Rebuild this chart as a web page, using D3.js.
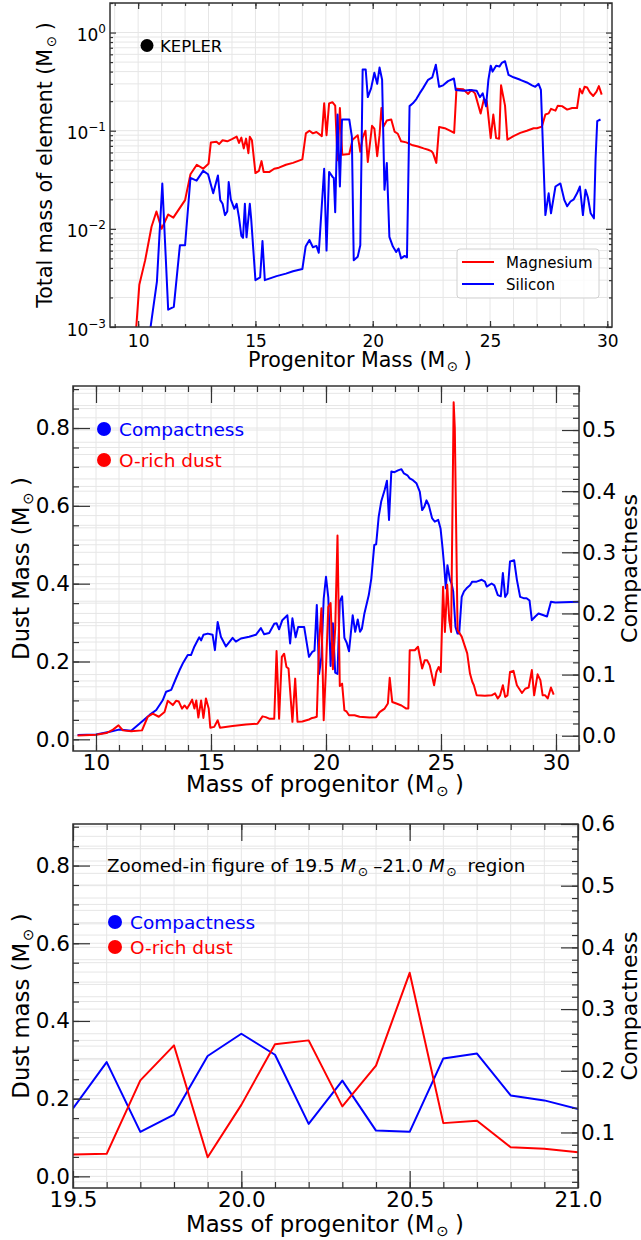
<!DOCTYPE html>
<html>
<head>
<meta charset="utf-8">
<script src="https://cdn.jsdelivr.net/npm/d3@7"></script>
<style>
body { margin: 0; background: #fff; }
text { font-family: "DejaVu Sans", sans-serif; }
</style>
</head>
<body>
<script>
// ---- top panel: total Mg / Si mass (KEPLER) ----
var mgMass = [9.8, 10.05, 10.3, 10.57, 10.78, 11.0, 11.28, 11.5, 12.0, 12.23, 12.5, 12.77, 13.0, 13.1, 13.34, 13.45, 13.6, 13.8, 14.0, 14.2, 14.3, 14.4, 14.5, 14.6, 14.7, 14.76, 14.85, 15.0, 15.15, 15.26, 15.35, 15.6, 15.8, 16.0, 16.3, 16.6, 17.0, 17.15, 17.3, 17.45, 17.6, 17.83, 17.93, 18.03, 18.14, 18.28, 18.4, 18.5, 18.6, 18.7, 19.0, 19.14, 19.36, 19.47, 19.57, 19.69, 19.79, 19.97, 20.07, 20.19, 20.29, 20.37, 20.46, 20.6, 20.79, 20.93, 21.07, 21.21, 21.43, 21.71, 21.93, 22.17, 22.36, 22.5, 22.57, 22.71, 22.83, 23.07, 23.29, 23.47, 23.57, 23.86, 24.07, 24.21, 24.36, 24.6, 24.74, 24.86, 25.03, 25.14, 25.26, 25.39, 25.47, 25.64, 25.74, 26.0, 26.29, 26.57, 26.86, 27.0, 27.21, 27.36, 27.5, 27.6, 27.79, 27.89, 28.07, 28.29, 28.5, 28.71, 28.83, 28.93, 29.03, 29.14, 29.26, 29.4, 29.54, 29.64, 29.76];
var mgTotal = [0.0004, 0.0027, 0.0048, 0.0105, 0.015, 0.0100, 0.014, 0.013, 0.0196, 0.036, 0.045, 0.041, 0.046, 0.076, 0.077, 0.073, 0.080, 0.078, 0.082, 0.087, 0.075, 0.085, 0.066, 0.083, 0.059, 0.087, 0.080, 0.037, 0.039, 0.049, 0.038, 0.038, 0.041, 0.042, 0.045, 0.047, 0.051, 0.094, 0.10, 0.094, 0.097, 0.088, 0.19, 0.09, 0.19, 0.195, 0.18, 0.05, 0.17, 0.057, 0.058, 0.081, 0.09, 0.061, 0.085, 0.10, 0.048, 0.112, 0.105, 0.055, 0.09, 0.17, 0.11, 0.127, 0.13, 0.098, 0.093, 0.078, 0.076, 0.071, 0.069, 0.066, 0.064, 0.062, 0.059, 0.047, 0.109, 0.106, 0.10, 0.095, 0.267, 0.265, 0.237, 0.26, 0.24, 0.15, 0.21, 0.20, 0.084, 0.146, 0.084, 0.083, 0.29, 0.18, 0.081, 0.088, 0.095, 0.10, 0.106, 0.106, 0.11, 0.146, 0.15, 0.167, 0.16, 0.18, 0.178, 0.164, 0.17, 0.17, 0.267, 0.24, 0.28, 0.275, 0.245, 0.226, 0.25, 0.285, 0.233];

var siMass = [10.4, 10.8, 11.03, 11.28, 11.52, 11.78, 12.0, 12.23, 12.49, 12.77, 12.98, 13.2, 13.4, 13.5, 13.6, 13.7, 13.8, 13.86, 13.95, 14.1, 14.2, 14.3, 14.4, 14.47, 14.55, 14.62, 14.76, 14.82, 15.0, 15.2, 15.3, 15.4, 15.9, 16.3, 16.6, 17.0, 17.14, 17.3, 17.45, 17.6, 17.7, 17.93, 18.03, 18.14, 18.28, 18.34, 18.4, 18.5, 18.6, 18.69, 19.0, 19.11, 19.19, 19.36, 19.47, 19.57, 19.7, 19.79, 19.93, 20.07, 20.19, 20.29, 20.4, 20.5, 20.6, 20.71, 20.86, 21.0, 21.1, 21.21, 21.36, 21.46, 21.57, 21.71, 21.86, 22.0, 22.14, 22.36, 22.54, 22.69, 22.83, 23.0, 23.21, 23.46, 23.54, 23.86, 24.14, 24.43, 24.57, 24.69, 24.83, 24.93, 25.03, 25.11, 25.26, 25.4, 25.5, 25.64, 25.79, 26.0, 26.29, 26.57, 26.79, 26.93, 27.07, 27.17, 27.36, 27.5, 27.6, 27.79, 28.0, 28.17, 28.29, 28.43, 28.57, 28.71, 28.83, 28.96, 29.07, 29.17, 29.29, 29.43, 29.5, 29.57, 29.71];
var siTotal = [0.0006, 0.0029, 0.029, 0.0015, 0.0016, 0.0068, 0.0068, 0.033, 0.031, 0.039, 0.036, 0.023, 0.035, 0.0196, 0.018, 0.0138, 0.015, 0.030, 0.020, 0.016, 0.018, 0.013, 0.0085, 0.0081, 0.018, 0.0082, 0.018, 0.0125, 0.003, 0.0032, 0.0075, 0.003, 0.0033, 0.0035, 0.0037, 0.0039, 0.0066, 0.0077, 0.0065, 0.0067, 0.0057, 0.041, 0.0060, 0.038, 0.034, 0.033, 0.0148, 0.146, 0.027, 0.13, 0.13, 0.087, 0.0048, 0.0052, 0.0068, 0.42, 0.42, 0.22, 0.27, 0.39, 0.30, 0.44, 0.33, 0.025, 0.047, 0.0083, 0.0066, 0.0058, 0.0063, 0.005, 0.0053, 0.0051, 0.178, 0.19, 0.21, 0.24, 0.27, 0.33, 0.35, 0.47, 0.28, 0.29, 0.32, 0.34, 0.26, 0.255, 0.26, 0.255, 0.22, 0.24, 0.177, 0.33, 0.46, 0.40, 0.46, 0.45, 0.49, 0.51, 0.37, 0.35, 0.33, 0.31, 0.29, 0.28, 0.30, 0.26, 0.0138, 0.023, 0.0144, 0.027, 0.029, 0.0196, 0.017, 0.019, 0.020, 0.023, 0.027, 0.0138, 0.025, 0.021, 0.0144, 0.0128, 0.052, 0.125, 0.13];

// ---- zoomed region 19.5-21.0 (0.1 steps) ----
var zoomMass = [19.5, 19.6, 19.7, 19.8, 19.9, 20.0, 20.1, 20.2, 20.3, 20.4, 20.5, 20.6, 20.7, 20.8, 20.9, 21.0];
var zoomDust = [0.056, 0.058, 0.247, 0.337, 0.049, 0.184, 0.340, 0.350, 0.180, 0.285, 0.524, 0.137, 0.143, 0.075, 0.071, 0.062];
var zoomComp = [0.139, 0.214, 0.101, 0.129, 0.224, 0.260, 0.226, 0.114, 0.184, 0.103, 0.101, 0.220, 0.228, 0.160, 0.152, 0.138];

// ---- middle panel, outside the zoomed region ----
var compMassLo = [9.2, 10.0, 10.6, 11.0, 11.53, 11.9, 12.33, 12.62, 12.9, 13.05, 13.27, 13.48, 13.63, 13.77, 13.99, 14.13, 14.28, 14.42, 14.49, 14.57, 14.67, 14.86, 15.07, 15.17, 15.29, 15.43, 15.65, 15.94, 16.08, 16.3, 16.66, 16.95, 17.17, 17.31, 17.53, 17.75, 17.85, 17.96, 18.1, 18.32, 18.44, 18.54, 18.68, 18.79, 19.05, 19.26, 19.4];
var compLo = [0.001, 0.002, 0.0065, 0.010, 0.008, 0.020, 0.034, 0.042, 0.058, 0.072, 0.075, 0.094, 0.107, 0.118, 0.132, 0.132, 0.146, 0.156, 0.161, 0.156, 0.165, 0.167, 0.165, 0.140, 0.186, 0.162, 0.146, 0.160, 0.154, 0.159, 0.162, 0.165, 0.176, 0.166, 0.168, 0.183, 0.184, 0.174, 0.189, 0.197, 0.151, 0.192, 0.161, 0.178, 0.178, 0.129, 0.137];
var compMassHi = [21.16, 21.27, 21.38, 21.48, 21.56, 21.67, 21.86, 21.97, 22.1, 22.18, 22.29, 22.4, 22.55, 22.65, 22.74, 22.84, 22.98, 23.13, 23.28, 23.39, 23.54, 23.64, 23.78, 23.93, 24.08, 24.18, 24.27, 24.37, 24.47, 24.61, 24.73, 24.88, 24.98, 25.07, 25.14, 25.21, 25.28, 25.39, 25.46, 25.53, 25.63, 25.72, 25.79, 25.9, 26.0, 26.11, 26.26, 26.36, 26.55, 26.77, 26.91, 26.99, 27.2, 27.32, 27.47, 27.6, 27.69, 27.79, 27.89, 28.0, 28.18, 28.3, 28.44, 28.59, 28.72, 28.85, 28.95, 29.1, 29.24, 29.46, 29.61, 29.78, 29.97, 31.0];
var compHi = [0.197, 0.170, 0.190, 0.170, 0.175, 0.200, 0.230, 0.257, 0.312, 0.313, 0.358, 0.383, 0.402, 0.417, 0.353, 0.432, 0.431, 0.434, 0.436, 0.429, 0.426, 0.421, 0.418, 0.413, 0.399, 0.369, 0.374, 0.385, 0.377, 0.356, 0.350, 0.353, 0.339, 0.306, 0.276, 0.241, 0.279, 0.255, 0.249, 0.236, 0.178, 0.167, 0.167, 0.227, 0.236, 0.241, 0.246, 0.252, 0.252, 0.255, 0.252, 0.244, 0.249, 0.246, 0.230, 0.228, 0.266, 0.227, 0.233, 0.285, 0.287, 0.255, 0.227, 0.225, 0.225, 0.221, 0.189, 0.195, 0.200, 0.197, 0.195, 0.219, 0.218, 0.219];

var dustMassLo = [9.2, 10.0, 10.45, 10.74, 10.98, 11.17, 11.53, 12.0, 12.25, 12.47, 12.73, 12.98, 13.12, 13.34, 13.48, 13.6, 13.74, 13.85, 13.96, 14.09, 14.18, 14.28, 14.36, 14.45, 14.57, 14.67, 14.78, 14.9, 14.97, 15.14, 15.29, 15.39, 15.94, 16.52, 17.02, 17.24, 17.38, 17.53, 17.75, 17.85, 17.96, 18.08, 18.18, 18.28, 18.37, 18.54, 18.66, 18.76, 18.97, 19.26, 19.4];
var dustLo = [0.010, 0.012, 0.016, 0.025, 0.036, 0.023, 0.021, 0.023, 0.058, 0.066, 0.058, 0.070, 0.099, 0.088, 0.099, 0.097, 0.079, 0.087, 0.079, 0.092, 0.102, 0.079, 0.100, 0.056, 0.100, 0.055, 0.105, 0.079, 0.030, 0.032, 0.049, 0.030, 0.034, 0.038, 0.040, 0.059, 0.057, 0.053, 0.053, 0.227, 0.053, 0.212, 0.220, 0.186, 0.182, 0.045, 0.156, 0.045, 0.046, 0.051, 0.055];
var dustMassHi = [21.24, 21.46, 21.89, 22.18, 22.33, 22.55, 22.69, 22.77, 22.88, 23.06, 23.28, 23.49, 23.58, 23.64, 23.86, 24.0, 24.18, 24.29, 24.4, 24.51, 24.7, 24.8, 24.9, 24.99, 25.09, 25.17, 25.27, 25.36, 25.44, 25.55, 25.6, 25.72, 25.9, 26.0, 26.14, 26.26, 26.36, 26.43, 26.55, 26.91, 27.2, 27.35, 27.47, 27.57, 27.69, 27.79, 27.89, 28.0, 28.15, 28.3, 28.52, 28.66, 28.81, 28.95, 29.05, 29.2, 29.32, 29.42, 29.53, 29.64, 29.78, 29.9];
var dustHi = [0.062, 0.058, 0.056, 0.057, 0.070, 0.079, 0.092, 0.158, 0.096, 0.092, 0.087, 0.079, 0.079, 0.229, 0.229, 0.238, 0.182, 0.203, 0.203, 0.190, 0.139, 0.173, 0.186, 0.173, 0.392, 0.276, 0.397, 0.306, 0.276, 0.866, 0.800, 0.281, 0.264, 0.246, 0.221, 0.169, 0.148, 0.139, 0.113, 0.112, 0.113, 0.118, 0.105, 0.113, 0.139, 0.109, 0.113, 0.173, 0.176, 0.139, 0.119, 0.130, 0.133, 0.178, 0.113, 0.167, 0.152, 0.113, 0.113, 0.105, 0.133, 0.115];

// tick labels
var topXTicks = [10, 15, 20, 25, 30];
var topYExp = [0, -1, -2, -3];
var midXTicks = [10, 15, 20, 25, 30];
var dustTicks = [0.0, 0.2, 0.4, 0.6, 0.8];
var midCompTicks = [0.0, 0.1, 0.2, 0.3, 0.4, 0.5];
var zoomXTicks = [19.5, 20.0, 20.5, 21.0];
var zoomCompTicks = [0.1, 0.2, 0.3, 0.4, 0.5, 0.6];

var RED = "#ff0000", BLUE = "#0000ff";
var gridColor = "#e6e6e6", spineColor = "#333";

var svg = d3.select("body").append("svg").attr("width", 641).attr("height", 1240);

function pairs(xs, ys) { return xs.map(function (x, i) { return [x, ys[i]]; }); }

// text with a subscript sun after an M, like mathtext M_\odot
function msun(t, fs, pre, post, italic) {
    t.append("tspan").text(pre);
    t.append("tspan").attr("font-style", italic ? "italic" : null).text("M");
    t.append("tspan").attr("font-size", fs * 0.65).attr("dy", fs * 0.18).attr("dx", fs * 0.08).text("\u2299");
    t.append("tspan").attr("dy", -fs * 0.18).attr("dx", fs * 0.28).text(post);
}

function panelFrame(id, left, right, top, bottom) {
    svg.append("clipPath").attr("id", id).append("rect")
        .attr("x", left).attr("y", top).attr("width", right - left).attr("height", bottom - top);
}

function gridLines(g, vals, scale, horizontal, left, right, top, bottom) {
    g.selectAll(null).data(vals).enter().append("line")
        .attr("x1", d => horizontal ? left : scale(d))
        .attr("x2", d => horizontal ? right : scale(d))
        .attr("y1", d => horizontal ? scale(d) : top)
        .attr("y2", d => horizontal ? scale(d) : bottom)
        .attr("stroke", gridColor).attr("stroke-width", 1);
}

function styleAxis(g, fs) {
    g.select(".domain").remove();
    g.selectAll(".tick line").attr("stroke", spineColor).attr("stroke-width", 1.2);
    g.selectAll(".tick text").attr("font-size", fs).attr("fill", "#000").attr("font-family", "DejaVu Sans");
}

function range(a, b, step) {
    var out = [];
    for (var v = a; v <= b + 1e-9; v += step) out.push(+v.toFixed(4));
    return out;
}

function drawLine(g, data, x, y, color, clip) {
    g.append("path").datum(data)
        .attr("clip-path", "url(#" + clip + ")")
        .attr("fill", "none").attr("stroke", color).attr("stroke-width", 2)
        .attr("stroke-linejoin", "round")
        .attr("d", d3.line().x(d => x(d[0])).y(d => y(d[1])));
}

// ================= TOP PANEL =================
(function () {
    var L = 110, R = 612, T = 3, B = 327;
    var x = d3.scaleLinear().domain([8.8, 30.2]).range([L, R]);
    var y = d3.scaleLog().domain([1e-3, 2]).range([B, T]);
    panelFrame("clipTop", L, R, T, B);
    var g = svg.append("g");

    var minorX = range(9, 30, 1);
    var logTicks = [];
    [-3, -2, -1, 0].forEach(function (e) {
        for (var k = 1; k <= 9; k++) {
            var v = k * Math.pow(10, e);
            if (v <= 2) logTicks.push(v);
        }
    });
    gridLines(g, minorX, x, false, L, R, T, B);
    gridLines(g, logTicks, y, true, L, R, T, B);

    drawLine(g, pairs(mgMass, mgTotal), x, y, RED, "clipTop");
    drawLine(g, pairs(siMass, siTotal), x, y, BLUE, "clipTop");

    // ticks, pointing inward on all four sides
    var majorY = topYExp.map(e => Math.pow(10, e));
    var minorY = logTicks.filter(v => majorY.indexOf(v) < 0);
    var gx = g.append("g").attr("transform", "translate(0," + B + ")")
        .call(d3.axisBottom(x).tickValues(topXTicks).tickSize(-6).tickPadding(8).tickFormat(d3.format("d")));
    styleAxis(gx, 17);
    styleAxis(g.append("g").attr("transform", "translate(0," + B + ")")
        .call(d3.axisBottom(x).tickValues(minorX).tickSize(-3).tickFormat("")), 17);
    styleAxis(g.append("g").attr("transform", "translate(0," + T + ")")
        .call(d3.axisTop(x).tickValues(topXTicks).tickSize(-6).tickFormat("")), 17);
    styleAxis(g.append("g").attr("transform", "translate(0," + T + ")")
        .call(d3.axisTop(x).tickValues(minorX).tickSize(-3).tickFormat("")), 17);
    [[L, d3.axisLeft], [R, d3.axisRight]].forEach(function (s) {
        styleAxis(g.append("g").attr("transform", "translate(" + s[0] + ",0)")
            .call(s[1](y).tickValues(majorY).tickSize(-6).tickFormat("")), 17);
        styleAxis(g.append("g").attr("transform", "translate(" + s[0] + ",0)")
            .call(s[1](y).tickValues(minorY).tickSize(-3).tickFormat("")), 17);
    });

    // 10^n labels
    topYExp.forEach(function (e) {
        var t = g.append("text").attr("x", L - 4).attr("y", y(Math.pow(10, e)) + 8.5)
            .attr("text-anchor", "end").attr("font-size", 17);
        t.append("tspan").text("10");
        t.append("tspan").attr("font-size", 12).attr("dy", -8).text(e === 0 ? "0" : "\u2212" + (-e));
    });

    g.append("rect").attr("x", L).attr("y", T).attr("width", R - L).attr("height", B - T)
        .attr("fill", "none").attr("stroke", spineColor).attr("stroke-width", 1.5);

    // KEPLER marker
    g.append("circle").attr("cx", 147).attr("cy", 45.5).attr("r", 6.5).attr("fill", "#000");
    g.append("text").attr("x", 160).attr("y", 51.5).attr("font-size", 16.5).text("KEPLER");

    // legend
    var lg = g.append("g");
    lg.append("rect").attr("x", 457).attr("y", 249).attr("width", 142).attr("height", 49).attr("rx", 3)
        .attr("fill", "#fff").attr("fill-opacity", 0.8).attr("stroke", "#d0d0d0");
    [["Magnesium", RED, 262], ["Silicon", BLUE, 284]].forEach(function (d) {
        lg.append("line").attr("x1", 462).attr("x2", 494).attr("y1", d[2]).attr("y2", d[2])
            .attr("stroke", d[1]).attr("stroke-width", 2);
        lg.append("text").attr("x", 506).attr("y", d[2] + 5.5).attr("font-size", 15).text(d[0]);
    });

    var xl = g.append("text").attr("x", 360).attr("y", 367).attr("text-anchor", "middle").attr("font-size", 20.6);
    msun(xl, 20.6, "Progenitor Mass (", ")");
    var yl = g.append("text").attr("transform", "translate(52,165) rotate(-90)")
        .attr("text-anchor", "middle").attr("font-size", 20.6);
    msun(yl, 20.6, "Total mass of element (", ")");
})();

// ============ MIDDLE + BOTTOM (dust vs compactness) ============
function dustPanel(o) {
    var L = o.L, R = o.R, T = o.T, B = o.B;
    var x = d3.scaleLinear().domain(o.xDomain).range([L, R]);
    var yL = d3.scaleLinear().domain(o.dustDomain).range([B, T]);
    var yR = d3.scaleLinear().domain(o.compDomain).range([B, T]);
    panelFrame(o.id, L, R, T, B);
    var g = svg.append("g");

    var minorL = range(-0.0, 0.9, 0.05).filter(v => yL(v) >= T && yL(v) <= B);
    var minorR = range(0, 0.6, 0.02).filter(v => yR(v) >= T - 0.5 && yR(v) <= B);
    gridLines(g, o.minorX, x, false, L, R, T, B);
    gridLines(g, minorL, yL, true, L, R, T, B);
    gridLines(g, minorR, yR, true, L, R, T, B);

    drawLine(g, o.comp, x, yR, BLUE, o.id);
    drawLine(g, o.dust, x, yL, RED, o.id);

    var fs = 21.5;
    styleAxis(g.append("g").attr("transform", "translate(0," + B + ")")
        .call(d3.axisBottom(x).tickValues(o.xTicks).tickSize(-17).tickPadding(4).tickFormat(o.xFormat)), fs);
    styleAxis(g.append("g").attr("transform", "translate(0," + B + ")")
        .call(d3.axisBottom(x).tickValues(o.minorX).tickSize(-6).tickFormat("")), fs);
    styleAxis(g.append("g").attr("transform", "translate(0," + T + ")")
        .call(d3.axisTop(x).tickValues(o.xTicks).tickSize(-17).tickFormat("")), fs);
    styleAxis(g.append("g").attr("transform", "translate(0," + T + ")")
        .call(d3.axisTop(x).tickValues(o.minorX).tickSize(-6).tickFormat("")), fs);
    styleAxis(g.append("g").attr("transform", "translate(" + L + ",0)")
        .call(d3.axisLeft(yL).tickValues(dustTicks).tickSize(-17).tickPadding(3).tickFormat(d3.format(".1f"))), fs);
    styleAxis(g.append("g").attr("transform", "translate(" + L + ",0)")
        .call(d3.axisLeft(yL).tickValues(minorL).tickSize(-6).tickFormat("")), fs);
    styleAxis(g.append("g").attr("transform", "translate(" + R + ",0)")
        .call(d3.axisRight(yR).tickValues(o.compTicks).tickSize(-17).tickPadding(3).tickFormat(d3.format(".1f"))), fs);
    styleAxis(g.append("g").attr("transform", "translate(" + R + ",0)")
        .call(d3.axisRight(yR).tickValues(minorR).tickSize(-6).tickFormat("")), fs);

    g.append("rect").attr("x", L).attr("y", T).attr("width", R - L).attr("height", B - T)
        .attr("fill", "none").attr("stroke", spineColor).attr("stroke-width", 1.5);

    // legend markers
    [["Compactness", BLUE, o.legY[0]], ["O-rich dust", RED, o.legY[1]]].forEach(function (d) {
        g.append("circle").attr("cx", o.legX).attr("cy", d[2]).attr("r", 7).attr("fill", d[1]);
        g.append("text").attr("x", o.legX + 15).attr("y", d[2] + 6.5).attr("font-size", 18.5)
            .attr("fill", d[1]).text(d[0]);
    });

    var xl = g.append("text").attr("x", 325).attr("y", B + o.xLabelDy).attr("text-anchor", "middle").attr("font-size", 22.8);
    msun(xl, 22.8, "Mass of progenitor (", ")");
    var yl = g.append("text").attr("transform", "translate(29," + (T + B) / 2 + ") rotate(-90)")
        .attr("text-anchor", "middle").attr("font-size", 22.8);
    msun(yl, 22.8, o.yLabel + " (", ")");
    g.append("text").attr("transform", "translate(637," + (T + B) / 2 + ") rotate(-90)")
        .attr("text-anchor", "middle").attr("font-size", 22).text("Compactness");
    return g;
}

dustPanel({
    id: "clipMid", L: 73, R: 579, T: 386, B: 751,
    xDomain: [9, 31], dustDomain: [-0.03, 0.908], compDomain: [-0.025, 0.572],
    xTicks: midXTicks, minorX: range(9, 31, 1), xFormat: d3.format("d"),
    compTicks: midCompTicks,
    comp: pairs(compMassLo.concat(zoomMass, compMassHi), compLo.concat(zoomComp, compHi)),
    dust: pairs(dustMassLo.concat(zoomMass, dustMassHi), dustLo.concat(zoomDust, dustHi)),
    legX: 104, legY: [429, 460], yLabel: "Dust Mass", xLabelDy: 41
});

var bottom = dustPanel({
    id: "clipBot", L: 73, R: 578, T: 824, B: 1188,
    xDomain: [19.5, 21.0], dustDomain: [-0.03, 0.907], compDomain: [0.01, 0.6],
    xTicks: zoomXTicks, minorX: range(19.5, 21.0, 0.1), xFormat: d3.format(".1f"),
    compTicks: zoomCompTicks,
    comp: pairs(zoomMass, zoomComp),
    dust: pairs(zoomMass, zoomDust),
    legX: 115, legY: [922, 947], yLabel: "Dust mass", xLabelDy: 44
});

// annotation in zoomed panel
var ann = bottom.append("text").attr("x", 107).attr("y", 871.5).attr("font-size", 18.3);
ann.append("tspan").text("Zoomed-in figure of 19.5 ");
ann.append("tspan").attr("font-style", "italic").text("M");
ann.append("tspan").attr("font-size", 12.5).attr("dy", 4).attr("dx", 1.5).text("\u2299");
ann.append("tspan").attr("dy", -4).attr("dx", 5).text("\u201321.0 ");
ann.append("tspan").attr("font-style", "italic").text("M");
ann.append("tspan").attr("font-size", 12.5).attr("dy", 4).attr("dx", 1.5).text("\u2299");
ann.append("tspan").attr("dy", -4).attr("dx", 5).text(" region");
</script>
</body>
</html>
